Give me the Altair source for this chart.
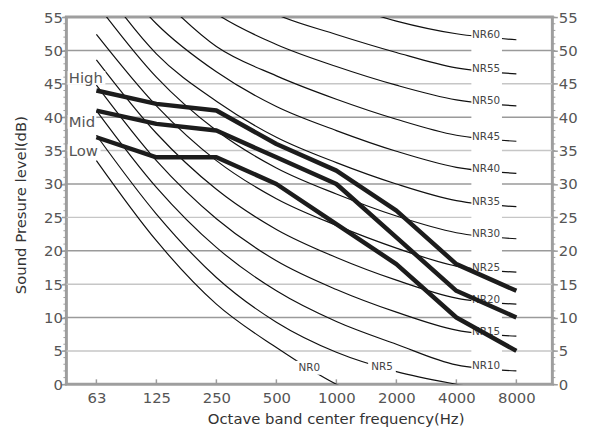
import altair as alt
import pandas as pd

# ---------------- data ----------------
bands = ["63", "125", "250", "500", "1000", "2000", "4000", "8000"]
nr_names = ["NR0", "NR5", "NR10", "NR15", "NR20", "NR25", "NR30",
            "NR35", "NR40", "NR45", "NR50", "NR55", "NR60"]

nr0 = [33.5, 21.5, 12.0, 5.5, 0.0, -3.5, -6.0, -8.0]
nr5 = [37.3, 25.5, 16.0, 9.3, 4.8, 1.9, 0.0, -1.5]
nr10 = [41.0, 29.5, 20.5, 14.0, 9.4, 6.0, 2.9, 2.0]
nr15 = [44.8, 33.5, 24.8, 18.5, 14.2, 10.8, 8.1, 7.2]
nr20 = [48.6, 37.6, 29.2, 23.2, 19.0, 15.6, 12.9, 12.0]
nr25 = [52.4, 41.7, 33.5, 27.8, 23.8, 20.4, 17.7, 16.8]
nr30 = [57.0, 46.0, 38.0, 32.4, 28.5, 25.2, 22.7, 21.8]
nr35 = [60.8, 49.5, 42.4, 37.0, 33.2, 30.0, 27.5, 26.6]
nr40 = [64.7, 54.0, 46.8, 41.6, 38.0, 34.9, 32.5, 31.6]
nr45 = [68.5, 58.6, 50.6, 46.2, 42.7, 39.7, 37.3, 36.4]
nr50 = [72.4, 62.9, 55.5, 50.9, 47.6, 44.8, 42.6, 41.7]
nr55 = [76.0, 67.0, 60.3, 55.4, 52.4, 49.7, 47.4, 46.5]
nr60 = [80.0, 71.2, 64.8, 60.2, 57.2, 54.4, 52.5, 51.6]
nr_curves = [nr0, nr5, nr10, nr15, nr20, nr25, nr30,
             nr35, nr40, nr45, nr50, nr55, nr60]

series_names = ["High", "Mid", "Low"]
high = [44, 42, 41, 36, 32, 26, 18, 14]
mid = [41, 39, 38, 34, 30, 22, 14, 10]
low = [37, 34, 34, 30, 24, 18, 10, 5]
series_values = [high, mid, low]

y_ticks = list(range(0, 56, 5))

# ---------------- layout / style ----------------
W, H = 491, 371
FONT = "DejaVu Sans"
AX = "#9c9c9c"
LBL = "#555555"
xs = alt.Scale(domain=[-0.5, 7.6], nice=False, zero=False)
ys = alt.Scale(domain=[0, 55], nice=False, zero=False)
idx = list(range(len(bands)))

PX_X = W / 8.1          # pixels per band step
PX_Y = H / 55.0         # pixels per dB
label_col = (6.25, 6.76)          # white label column (band-index units)
mid_labels = {"NR0": 3.55, "NR5": 4.76}   # labels placed on the curve
series_label_dy = [1.9, -1.7, -2.1]
series_box_end = [0.15, 0.0, 0.07]


def interp(vals, t):
    i = int(t)
    f = t - i
    return vals[i] + f * (vals[i + 1] - vals[i])


# ---------------- tables ----------------
nr_rows = []
for name, vals in zip(nr_names, nr_curves):
    for i, v in zip(idx, vals):
        nr_rows.append({"x": i, "y": v, "nr": name})
nr_df = pd.DataFrame(nr_rows)

lab_rows = []
box_rows = []
for name, vals in zip(nr_names, nr_curves):
    if name in mid_labels:
        t = mid_labels[name]
        yv = interp(vals, t)
        box_rows.append({"x": t - 14 / PX_X, "x2": t + 14 / PX_X,
                         "y": yv - 7 / PX_Y, "y2": yv + 7 / PX_Y})
        lab_rows.append({"x": t, "y": yv, "t": name})
    else:
        yv = interp(vals, label_col[0])
        lab_rows.append({"x": (label_col[0] + label_col[1]) / 2 - 0.01, "y": yv, "t": name})
lab_df = pd.DataFrame(lab_rows)

s_rows = []
for name, vals in zip(series_names, series_values):
    for i, v in zip(idx, vals):
        s_rows.append({"x": i, "y": v, "s": name})
s_df = pd.DataFrame(s_rows)

sl_rows = []
for name, vals, dy, xe in zip(series_names, series_values, series_label_dy, series_box_end):
    yv = vals[0] + dy
    sl_rows.append({"x": -0.46, "y": yv, "t": name})
    box_rows.append({"x": -0.48, "x2": xe, "y": yv - 7 / PX_Y, "y2": yv + 7 / PX_Y})
sl_df = pd.DataFrame(sl_rows)
box_df = pd.DataFrame(box_rows)
col_df = pd.DataFrame({"x": [label_col[0]], "x2": [label_col[1]]})

grid10 = pd.DataFrame({"y": [v for v in y_ticks if v % 10 == 0 and 0 < v < 55]})
grid5 = pd.DataFrame({"y": [v for v in y_ticks if v % 10 == 5 and 0 < v < 55]})
minor = pd.DataFrame({"y": list(range(0, 56))})
xt = pd.DataFrame({"x": idx})

label_js = "[" + ",".join("'" + b + "'" for b in bands) + "][datum.value]"
x_axis = alt.Axis(
    values=idx, labelExpr=label_js, ticks=False, domain=False, grid=False,
    labelFont=FONT, labelFontSize=15, labelColor=LBL, labelPadding=6,
    title="Octave band center frequency(Hz)", titleFont=FONT,
    titleFontSize=15, titleColor="#333333", titleFontWeight="normal",
    titleX=272, titleY=35, titleBaseline="middle", titleAlign="center")

XA = alt.X("x:Q", scale=xs, axis=x_axis)
YN = alt.Y("y:Q", scale=ys, axis=None)

# ---------------- layers ----------------
g10 = alt.Chart(grid10).mark_rule(color="#9a9a9a", strokeWidth=1.5).encode(
    x=alt.value(0), x2=alt.value(W),
    y=alt.Y("y:Q", scale=ys, axis=alt.Axis(
        orient="left", values=y_ticks, title="Sound Presure level(dB)",
        grid=False, domain=False, tickSize=5, tickColor=AX, tickWidth=1.5,
        labelFont=FONT, labelFontSize=15, labelColor=LBL, labelPadding=-1,
        titleFont=FONT, titleFontSize=15, titleColor="#333333",
        titleFontWeight="normal", titleX=-46, titleY=H / 2 + 4,
        titleAngle=270, titleBaseline="middle", titleAlign="center")))

g5 = alt.Chart(grid5).mark_rule(color="#c6c6c6", strokeWidth=1.5).encode(
    x=alt.value(0), x2=alt.value(W),
    y=alt.Y("y:Q", scale=ys, axis=alt.Axis(
        orient="right", values=y_ticks, title=None,
        grid=False, domain=False, tickSize=5, tickColor=AX, tickWidth=1.5,
        labelFont=FONT, labelFontSize=15, labelColor=LBL, labelPadding=1)))

minor_l = alt.Chart(minor).mark_rule(color=AX, strokeWidth=1).encode(
    x=alt.value(-3), x2=alt.value(0), y=YN)
minor_r = alt.Chart(minor).mark_rule(color=AX, strokeWidth=1).encode(
    x=alt.value(W), x2=alt.value(W + 3), y=YN)

xticks = alt.Chart(xt).mark_rule(color=AX, strokeWidth=1.5).encode(
    x=XA, y=alt.value(H), y2=alt.value(H - 5))

curves = alt.Chart(nr_df).mark_line(
    clip=True, interpolate="monotone", color="#111111", strokeWidth=1.2
).encode(x=XA, y=YN, detail="nr:N")

column = alt.Chart(col_df).mark_rect(color="white").encode(
    x=XA, x2="x2:Q", y=alt.value(3), y2=alt.value(H - 3))

boxes = alt.Chart(box_df).mark_rect(color="white").encode(
    x=XA, x2="x2:Q", y=YN, y2="y2:Q")

nr_text = alt.Chart(lab_df).mark_text(
    font=FONT, fontSize=10.5, color="#444444", align="center", baseline="middle"
).encode(x=XA, y=YN, text="t:N")

thick = alt.Chart(s_df).mark_line(
    color="#1c1c1c", strokeWidth=4.5, strokeJoin="round"
).encode(x=XA, y=YN, detail="s:N")

s_text = alt.Chart(sl_df).mark_text(
    font=FONT, fontSize=15, color="#555555", align="left", baseline="middle"
).encode(x=XA, y=YN, text="t:N")

chart = alt.layer(
    g10, g5, minor_l, minor_r, xticks, curves, column, boxes, nr_text, thick, s_text
).resolve_axis(y="independent").properties(
    width=W, height=H,
    autosize=alt.AutoSizeParams(type="none"),
    padding={"left": 59, "top": 7, "right": 36, "bottom": 43},
).configure_view(stroke="#9e9e9e", strokeWidth=3)

chart.save("out.html", embed_options={"renderer": "svg", "actions": False})
